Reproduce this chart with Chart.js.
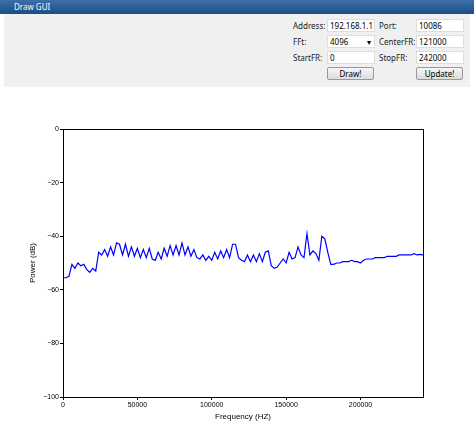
<!DOCTYPE html>
<html>
<head>
<meta charset="utf-8">
<script src="https://cdn.jsdelivr.net/npm/chart.js@4"></script>
<style>
  body { margin: 0; width: 474px; height: 440px; overflow: hidden; font-family: "Noto Sans", sans-serif; background: #fff; position: relative; }
  #titlebar { position: absolute; left: 0; top: 0; width: 474px; height: 14px; background: linear-gradient(#3d6fa8, #1c4d86); color: #fff; font-size: 8px; line-height: 14px; }
  #titlebar span { margin-left: 14px; }
  #panel { position: absolute; left: 4px; top: 14px; width: 466px; height: 73px; background: #f0f0f0; font-size: 8px; }
  .lbl { position: absolute; color: #222; }
  .inp { position: absolute; background: #fff; border: 1px solid #ddd; height: 11px; line-height: 11px; width: 44px; padding-left: 2px; }
  .btn { position: absolute; border: 1px solid #999; background: linear-gradient(#f6f6f6, #dcdcdc); height: 11px; line-height: 11px; width: 45px; text-align: center; border-radius: 2px; }
  #wrap { position: absolute; left: 0; top: 100px; width: 474px; height: 340px; }
</style>
</head>
<body>
<div id="titlebar"><span>Draw GUI</span></div>
<div id="panel">
  <div class="lbl" style="left:289px;top:6px">Address:</div><div class="inp" style="left:323px;top:5px">192.168.1.1</div>
  <div class="lbl" style="left:375px;top:6px">Port:</div><div class="inp" style="left:412px;top:5px">10086</div>
  <div class="lbl" style="left:289px;top:22px">FFt:</div><div class="inp" style="left:323px;top:21px">4096 <span style="float:right;margin-right:3px">▾</span></div>
  <div class="lbl" style="left:375px;top:22px">CenterFR:</div><div class="inp" style="left:412px;top:21px">121000</div>
  <div class="lbl" style="left:289px;top:38px">StartFR:</div><div class="inp" style="left:323px;top:37px">0</div>
  <div class="lbl" style="left:375px;top:38px">StopFR:</div><div class="inp" style="left:412px;top:37px">242000</div>
  <div class="btn" style="left:323px;top:53px">Draw!</div>
  <div class="btn" style="left:412px;top:53px">Update!</div>
</div>
<div id="wrap"><canvas id="grafico"></canvas></div>
<script>
const freqs = [];
for (let f = 0; f <= 242000; f += 2000) freqs.push(f);

const power = [
  -55.5, -55.5, -55, -50.5, -52, -50, -51, -50.5, -52.5, -53.5,
  -52, -53, -46, -47, -45, -47.5, -44, -47, -42.5, -43,
  -47, -43, -47.5, -44, -47.5, -44.5, -48, -45, -48, -44.5,
  -48.5, -49, -46, -48.5, -44.5, -47.5, -43.5, -47, -43.5, -47,
  -42.5, -47, -44, -47.5, -45, -48, -48.5, -47, -49, -47.5,
  -49, -46, -48.5, -45.5, -48, -45, -48, -43, -43, -48,
  -49, -49.5, -47, -49.5, -47, -49.5, -46.5, -49.5, -46, -45.5,
  -51, -52, -51.5, -50, -48.5, -50, -46, -48.5, -48, -44,
  -47, -48, -39, -47, -45.5, -46.5, -49, -40, -41, -46,
  -50.5, -50.5, -50, -50, -49.5, -49.5, -49.5, -49, -49.5, -49.5,
  -50, -49, -48.5, -48.5, -48.5, -48, -48, -48, -48, -47.5,
  -47.5, -47.5, -47.5, -47, -47, -47, -47, -47, -46.5, -47,
  -46.8, -47
];

const xTicks = [0, 50000, 100000, 150000, 200000];
const yTicks = [0, -20, -40, -60, -80, -100];

const boxPlugin = {
  id: 'box',
  afterDraw(chart) {
    const a = chart.chartArea, ctx = chart.ctx;
    ctx.save();
    ctx.strokeStyle = '#000';
    ctx.lineWidth = 1;
    ctx.strokeRect(a.left + 0.5, a.top + 0.5, a.right - a.left, a.bottom - a.top);
    ctx.restore();
  }
};

new Chart(document.getElementById('grafico'), {
  type: 'line',
  data: {
    datasets: [{
      data: freqs.map((f, i) => ({ x: f, y: power[i] })),
      borderColor: '#0000ff',
      borderWidth: 1.2,
      pointRadius: 0,
      tension: 0,
      fill: false
    }]
  },
  options: {
    responsive: true,
    maintainAspectRatio: false,
    animation: false,
    layout: { padding: { top: 29, right: 51, left: 28, bottom: 18 } },
    plugins: { legend: { display: false }, tooltip: { enabled: false } },
    scales: {
      x: {
        type: 'linear', min: 0, max: 242000,
        afterBuildTicks: s => { s.ticks = xTicks.map(v => ({ value: v })); },
        afterFit: s => { s.height = 25; },
        grid: { display: true, drawOnChartArea: false, tickLength: 3, color: '#000' },
        border: { display: false },
        ticks: { color: '#000', font: { size: 7 }, maxRotation: 0, padding: 1, callback: v => String(v) },
        title: { display: true, text: 'Frequency (HZ)', color: '#000', font: { size: 8 }, padding: 0 }
      },
      y: {
        min: -100, max: 0,
        afterBuildTicks: s => { s.ticks = yTicks.map(v => ({ value: v })); },
        afterFit: s => { s.width = 35; },
        grid: { display: true, drawOnChartArea: false, tickLength: 3, color: '#000' },
        border: { display: false },
        ticks: { color: '#000', font: { size: 7 }, padding: 1, callback: v => v === 0 ? '0' : '\u2212' + Math.abs(v) },
        title: { display: true, text: 'Power (dB)', color: '#000', font: { size: 8 }, padding: 0 }
      }
    }
  },
  plugins: [boxPlugin]
});
</script>
</body>
</html>
